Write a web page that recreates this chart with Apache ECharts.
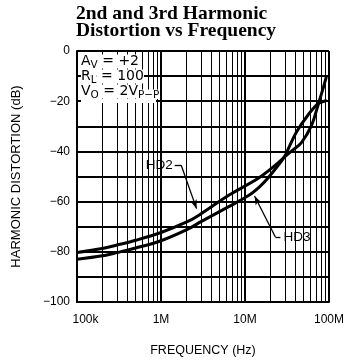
<!DOCTYPE html>
<html><head><meta charset="utf-8">
<script src="https://cdn.jsdelivr.net/npm/echarts@6/dist/echarts.min.js"></script>
<style>html,body{margin:0;padding:0;background:#fff}#c{width:347px;height:364px}</style>
</head><body><div id="c"></div>
<script>
// ---- data ----
const titleLines = ['2nd and 3rd Harmonic', 'Distortion vs Frequency'];
const xAxisName = 'FREQUENCY (Hz)';
const yAxisName = 'HARMONIC DISTORTION (dB)';
const decadeTicks = [1e5, 1e6, 1e7, 1e8];
const decadeLabels = ['100k', '1M', '10M', '100M'];
const minorMultipliers = [2, 3, 4, 5, 6, 7, 8, 9];
const yMin = -100, yMax = 0, yGridStep = 10, yLabelStep = 20;

const hd2Freq = [1e5, 2e5, 3e5, 5e5, 1e6, 2e6, 2.8e6, 6.4e6, 1.47e7, 2.5e7, 2.9e7, 3.7e7, 4.7e7, 6.2e7, 7.4e7, 8.4e7, 9.3e7];
const hd2Db   = [-80.3, -78.7, -77.3, -75.4, -72.3, -68.2, -65.5, -57.5, -50.5, -44.5, -42.5, -39.5, -36.5, -29.6, -21.6, -15.5, -10.3];
const hd3Freq = [1e5, 2e5, 3e5, 5e5, 1e6, 2e6, 3e6, 6.4e6, 1.1e7, 1.5e7, 1.9e7, 2.9e7, 3.4e7, 4.1e7, 5.6e7, 7.4e7, 8.5e7, 9.4e7];
const hd3Db   = [-83, -81.6, -80.3, -78.5, -75.6, -71.3, -68, -62, -57.6, -54, -50.4, -42.5, -37.8, -32.3, -25.6, -21, -20.2, -19.6];

const hd2Label = 'HD2', hd3Label = 'HD3';
const hd2Leader = [[1.455e6, -45.5], [1.74e6, -45.5], [2.65e6, -62.8]];
const hd3Leader = [[2.64e7, -74.1], [2.3e7, -74.1], [1.3e7, -57.8]];

const conditions = [['A', 'V', ' = +2', ''], ['R', 'L', ' = 100', ''], ['V', 'O', ' = 2V', 'P\u2212P']];

// ---- build ----
const zip = (a, b) => a.map((v, i) => [v, b[i]]);
const minorGrid = [];
decadeTicks.slice(0, -1).forEach(d => minorMultipliers.forEach(m => minorGrid.push({ xAxis: d * m })));

const condText = conditions.map(c => '{t|' + c[0] + '}{s|' + c[1] + '}{t|' + c[2] + '}' + (c[3] ? '{s|' + c[3] + '}' : '')).join('\n') + '\n{g| }';

const sansFont = 'Liberation Sans';
const chart = echarts.init(document.getElementById('c'), null, { renderer: 'canvas' });
chart.setOption({
  animation: false,
  backgroundColor: '#fff',
  title: [{
    text: titleLines.join('\n'),
    left: 76, top: 5, padding: 0,
    textStyle: { fontFamily: 'Liberation Serif', fontWeight: 'bold', fontSize: 19.5, lineHeight: 17, color: '#000' }
  }, {
    text: condText,
    left: 81, top: 54, padding: 0, z: 10,
    textStyle: {
      fontFamily: 'DejaVu Sans', fontWeight: 'normal', fontSize: 14, lineHeight: 15, color: '#000',
      rich: {
        t: { fontFamily: 'DejaVu Sans', fontWeight: 'normal', fontSize: 14, lineHeight: 15, color: '#000', backgroundColor: '#fff' },
        s: { fontFamily: 'DejaVu Sans', fontWeight: 'normal', fontSize: 10.5, lineHeight: 15, verticalAlign: 'bottom', padding: [0, 0, -1.5, 0], color: '#000', backgroundColor: '#fff' },
        g: { fontSize: 4, lineHeight: 4, width: 75, height: 4, backgroundColor: '#fff' }
      }
    }
  }],
  grid: { left: 77, right: 16, top: 51, bottom: 62, containLabel: false },
  xAxis: {
    type: 'log', logBase: 10, min: decadeTicks[0], max: decadeTicks[decadeTicks.length - 1],
    name: xAxisName, nameLocation: 'middle', nameGap: 42,
    nameTextStyle: { fontFamily: sansFont, fontSize: 12.5, color: '#000' },
    axisLine: { show: true, onZero: false, lineStyle: { color: '#000', width: 2 } },
    axisTick: { show: false },
    splitLine: { show: true, lineStyle: { color: '#000', width: 2 } },
    axisLabel: {
      margin: 12, fontFamily: sansFont, fontSize: 12, color: '#000',
      formatter: v => {
        const i = decadeTicks.findIndex(t => Math.abs(Math.log10(t) - Math.log10(v)) < 1e-6);
        if (i < 0) return '';
        return i === 0 ? '{f|' + decadeLabels[i] + '}' : decadeLabels[i];
      },
      rich: { f: { fontFamily: sansFont, fontSize: 12, color: '#000', padding: [0, 0, 0, 17] } }
    }
  },
  yAxis: {
    type: 'value', min: yMin, max: yMax, interval: yGridStep,
    name: yAxisName, nameLocation: 'middle', nameGap: 54, nameRotate: 90,
    nameTextStyle: { fontFamily: sansFont, fontSize: 13, color: '#000' },
    axisLine: { show: true, lineStyle: { color: '#000', width: 2 } },
    axisTick: { show: false },
    splitLine: { show: true, lineStyle: { color: '#000', width: 1.8 } },
    axisLabel: {
      margin: 7, fontFamily: sansFont, fontSize: 12, color: '#000',
      formatter: v => (Math.round(v) % yLabelStep === 0 ? String(v).replace('-', '\u2212') : '')
    }
  },
  series: [{
    type: 'line', name: 'grid', data: [], silent: true, z: 1,
    markLine: {
      silent: true, symbol: ['none', 'none'], label: { show: false },
      lineStyle: { color: '#000', width: 1, type: 'solid' },
      emphasis: { disabled: true },
      data: minorGrid
    }
  }, {
    type: 'line', name: hd2Label, data: zip(hd2Freq, hd2Db), smooth: 0.35, showSymbol: false, z: 3,
    lineStyle: { color: '#000', width: 3 }
  }, {
    type: 'line', name: hd3Label, data: zip(hd3Freq, hd3Db), smooth: 0.35, showSymbol: false, z: 3,
    lineStyle: { color: '#000', width: 3 }
  }, {
    type: 'line', name: 'leaders', data: [], silent: true, z: 4,
    markLine: {
      silent: true, emphasis: { disabled: true },
      lineStyle: { color: '#000', width: 1.3, type: 'solid' },
      data: [
        [{ coord: hd2Leader[0], symbol: 'none', label: { show: true, position: 'start', formatter: hd2Label, distance: 2 } }, { coord: hd2Leader[1], symbol: 'none' }],
        [{ coord: hd2Leader[1], symbol: 'none', label: { show: false } }, { coord: hd2Leader[2], symbol: 'arrow', symbolSize: [5, 9] }],
        [{ coord: hd3Leader[0], symbol: 'none', label: { show: true, position: 'start', formatter: hd3Label, distance: 3 } }, { coord: hd3Leader[1], symbol: 'none' }],
        [{ coord: hd3Leader[1], symbol: 'none', label: { show: false } }, { coord: hd3Leader[2], symbol: 'arrow', symbolSize: [5, 9] }]
      ],
      label: { color: '#000', fontFamily: sansFont, fontSize: 13.5 }
    }
  }]
});
</script></body></html>
